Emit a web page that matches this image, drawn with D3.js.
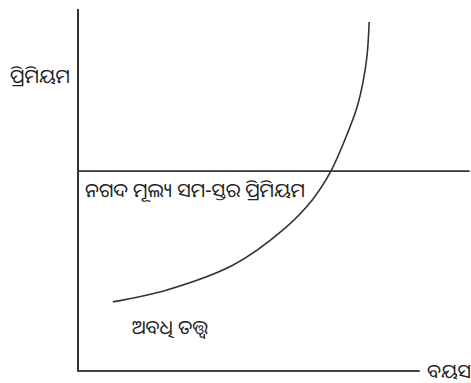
<!DOCTYPE html>
<html>
<head>
<meta charset="utf-8">
<script src="https://cdn.jsdelivr.net/npm/d3@7"></script>
<style>
  body { margin: 0; background: #fff; }
  text { font-family: "Noto Sans Oriya", "Noto Sans Odia", "Lohit Odia", "Noto Sans", sans-serif; fill: #222; }
</style>
</head>
<body>
<svg id="chart" width="471" height="383"></svg>
<script>
// --- Dữ liệu (đơn vị tuỳ ý, gốc trục = 0) ---
const termAge = [10.2, 26.0, 45.4, 60.0, 68.5, 74.0, 79.0, 81.6, 83.4, 84.6, 85.2];
const termPremium = [19.1, 22.4, 29.3, 39.0, 47.2, 55.2, 66.0, 72.7, 79.8, 87.3, 96.4];
const levelPremium = 55.2;
const levelAgeEnd = 114.6;
const axisAgeEnd = 100;

const labels = {
  yAxis: "ପ୍ରିମିୟମ",
  xAxis: "ବୟସ",
  level: "ନଗଦ ମୂଲ୍ୟ ସମ-ସ୍ତର ପ୍ରିମିୟମ",
  term: "ଅବଧି ତତ୍ତ୍ୱ"
};

const svg = d3.select("#chart");

const x = d3.scaleLinear().domain([0, 115]).range([78, 471]);
const y = d3.scaleLinear().domain([0, 100]).range([371, 9]);

// Trục
svg.append("line")
  .attr("x1", x(0)).attr("x2", x(0))
  .attr("y1", y(0)).attr("y2", y(100))
  .attr("stroke", "#333").attr("stroke-width", 2);

svg.append("line")
  .attr("x1", x(0) - 1).attr("x2", x(axisAgeEnd))
  .attr("y1", y(0)).attr("y2", y(0))
  .attr("stroke", "#444").attr("stroke-width", 2);

// Đường phí bảo hiểm cố định
svg.append("line")
  .attr("x1", x(0)).attr("x2", x(levelAgeEnd))
  .attr("y1", y(levelPremium)).attr("y2", y(levelPremium))
  .attr("stroke", "#333").attr("stroke-width", 1.8);

// Đường cong
const line = d3.line()
  .x((d, i) => x(termAge[i]))
  .y(d => y(d))
  .curve(d3.curveCatmullRom);

svg.append("path")
  .datum(termPremium)
  .attr("d", line)
  .attr("fill", "none")
  .attr("stroke", "#333")
  .attr("stroke-width", 1.6);

// Nhãn
svg.append("text").attr("x", 10).attr("y", 83)
  .style("font-size", "19.5px").text(labels.yAxis);

svg.append("text").attr("x", 85).attr("y", 197)
  .style("font-size", "19.5px").text(labels.level);

svg.append("text").attr("x", 132).attr("y", 334)
  .style("font-size", "19.5px").text(labels.term);

svg.append("text").attr("x", 427).attr("y", 378)
  .style("font-size", "19.5px").text(labels.xAxis);
</script>
</body>
</html>
